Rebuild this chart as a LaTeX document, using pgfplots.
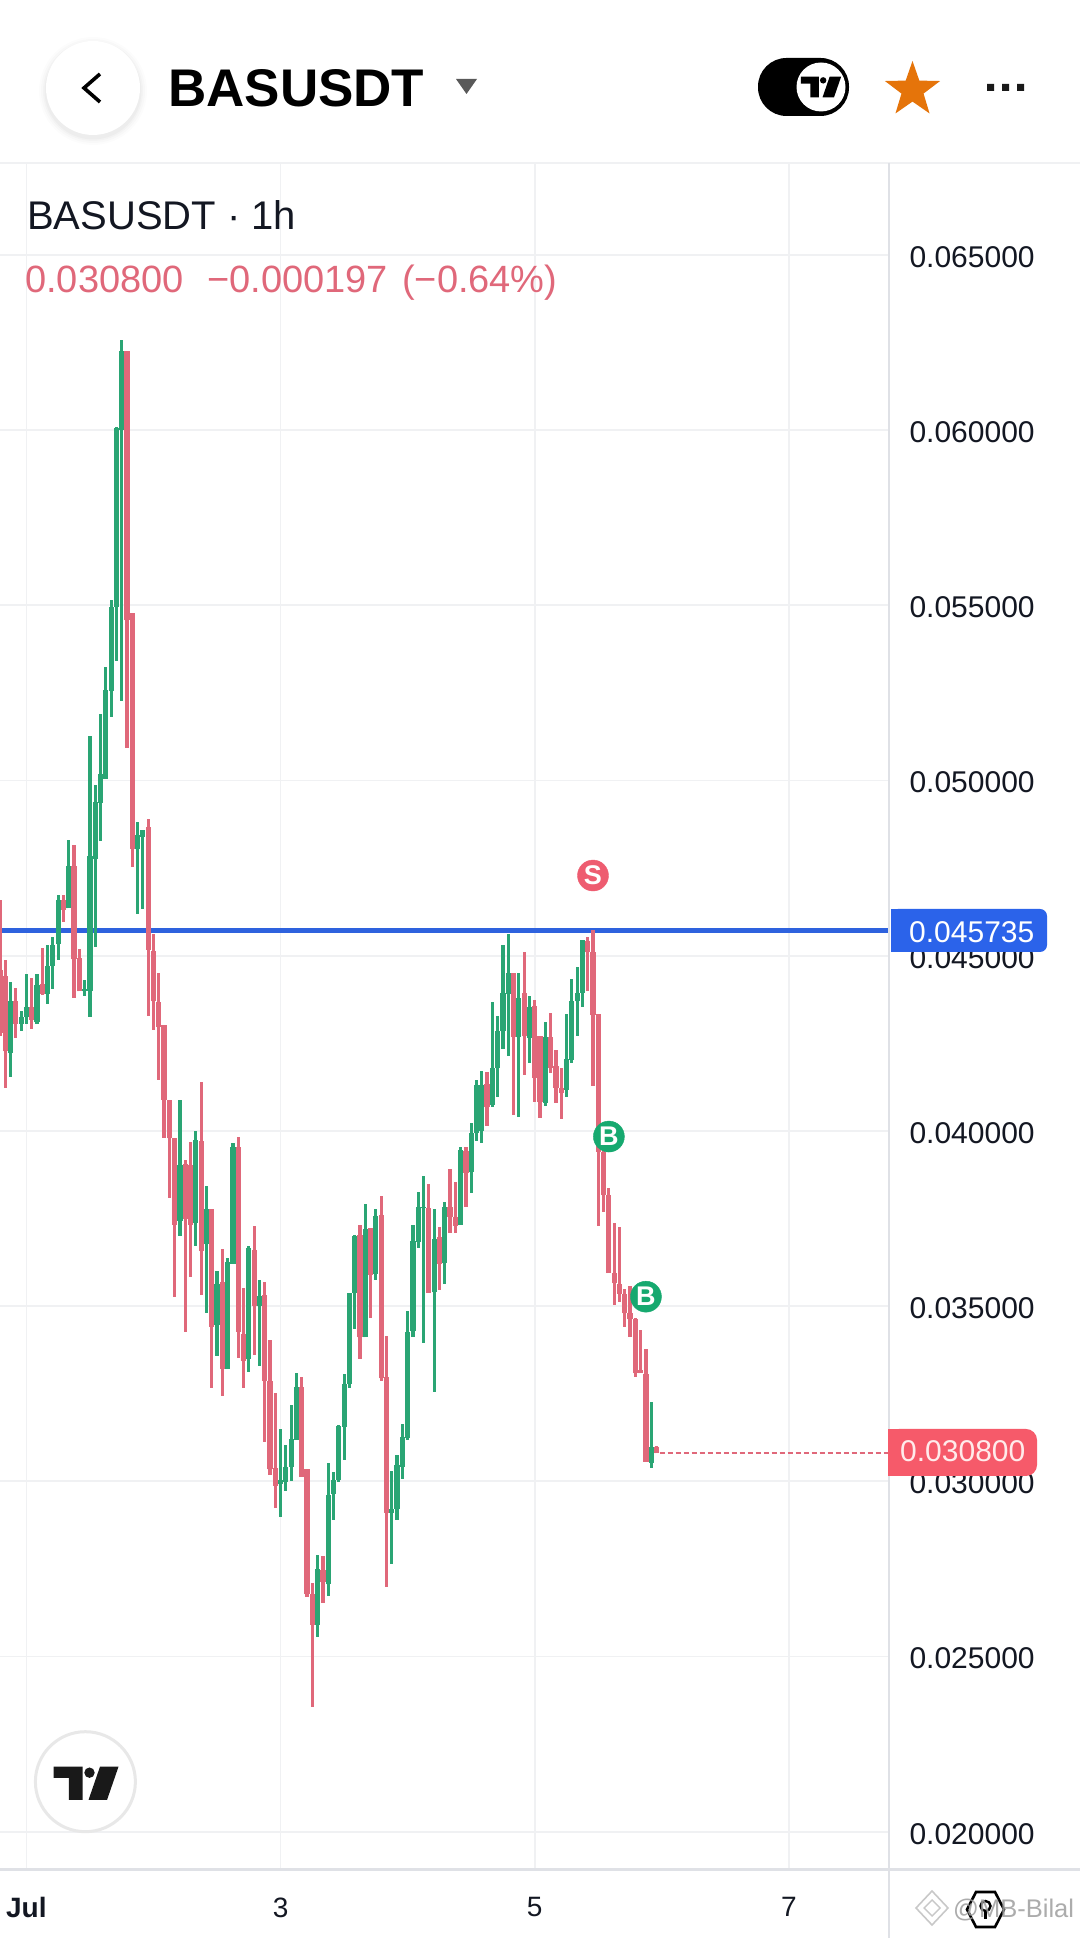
\documentclass[border=0pt]{standalone}
\usepackage{pgfplots}
\usepackage{pgfplotstable}
\usepackage{fontspec}
\setmainfont{Liberation Sans}
\pgfplotsset{compat=1.18}
\usetikzlibrary{shapes.geometric}
\definecolor{cgreen}{HTML}{2AA574}
\definecolor{cred}{HTML}{E0687A}
\definecolor{cgrid}{HTML}{F0F1F3}
\definecolor{caxis}{HTML}{DFE1E6}
\definecolor{ctext}{HTML}{131722}
\definecolor{cblue}{HTML}{2E62DE}
\definecolor{cboxb}{HTML}{2B63EA}
\definecolor{cboxr}{HTML}{F65A6A}
\definecolor{cstar}{HTML}{E5740A}
\definecolor{cmarkr}{HTML}{EE5C70}
\definecolor{cmarkg}{HTML}{16A96F}
% hour since 1 July 00:00, high, low, body top, body bottom
\pgfplotstableread{
h hi lo top bot
-3 0.04424 0.04153 0.04372 0.04222
-1 0.04341 0.04284 0.04325 0.04306
0 0.04448 0.04305 0.04355 0.04325
2 0.04448 0.04305 0.04417 0.04312
4 0.04530 0.04362 0.04470 0.04391
5 0.04553 0.04405 0.04531 0.04471
6 0.04674 0.04488 0.04658 0.04534
8 0.04831 0.04635 0.04756 0.04635
11 0.04431 0.04384 0.04405 0.04398
12 0.05127 0.04325 0.04785 0.04400
13 0.04986 0.04524 0.04940 0.04776
14 0.05189 0.04828 0.05018 0.04937
15 0.05324 0.05005 0.05259 0.05005
16 0.05516 0.05182 0.05495 0.05255
17 0.06009 0.05340 0.06005 0.05495
18 0.06256 0.05226 0.06226 0.06000
21 0.04881 0.04618 0.04844 0.04804
22 0.04858 0.04634 0.04858 0.04839
29 0.04087 0.03699 0.03903 0.03743
32 0.04000 0.03671 0.03975 0.03736
34 0.03844 0.03479 0.03776 0.03677
36 0.03601 0.03358 0.03562 0.03446
38 0.03638 0.03322 0.03625 0.03322
39 0.03966 0.03621 0.03955 0.03621
42 0.03671 0.03312 0.03667 0.03348
44 0.03575 0.03329 0.03529 0.03499
48 0.03148 0.02899 0.03004 0.02991
49 0.03105 0.02973 0.03041 0.02999
50 0.03218 0.03000 0.03122 0.03041
51 0.03308 0.03118 0.03270 0.03118
55 0.02791 0.02555 0.02750 0.02590
57 0.03051 0.02672 0.02962 0.02706
58 0.03027 0.02891 0.03003 0.02965
59 0.03160 0.02997 0.03158 0.03003
60 0.03305 0.03062 0.03277 0.03156
61 0.03538 0.03265 0.03538 0.03279
62 0.03703 0.03436 0.03701 0.03538
64 0.03791 0.03411 0.03720 0.03411
66 0.03776 0.03576 0.03757 0.03592
69 0.03029 0.02765 0.02922 0.02910
70 0.03075 0.02891 0.03046 0.02922
71 0.03165 0.03006 0.03127 0.03041
72 0.03486 0.03118 0.03425 0.03125
73 0.03732 0.03413 0.03687 0.03430
74 0.03825 0.03665 0.03784 0.03684
75 0.03871 0.03394 0.03784 0.03779
77 0.03776 0.03256 0.03692 0.03539
79 0.03798 0.03562 0.03782 0.03622
82 0.03953 0.03731 0.03946 0.03731
84 0.04024 0.03822 0.03993 0.03882
85 0.04146 0.03970 0.04130 0.03993
86 0.04172 0.03966 0.04132 0.04000
88 0.04368 0.04068 0.04179 0.04074
89 0.04327 0.04098 0.04284 0.04179
90 0.04531 0.04233 0.04393 0.04284
91 0.04563 0.04215 0.04450 0.04391
93 0.04450 0.04039 0.04379 0.04268
95 0.04386 0.04193 0.04353 0.04265
98 0.04312 0.04070 0.04268 0.04081
102 0.04333 0.04098 0.04205 0.04117
103 0.04433 0.04195 0.04371 0.04203
104 0.04469 0.04270 0.04395 0.04370
105 0.04544 0.04355 0.04544 0.04395
118 0.03227 0.03039 0.03099 0.03053
}\greentab
\pgfplotstableread{
h hi lo top bot
-5 0.04660 0.04270 0.04460 0.04280
-4 0.04489 0.04122 0.04443 0.04227
-2 0.04408 0.04265 0.04370 0.04306
1 0.04436 0.04291 0.04355 0.04317
3 0.04522 0.04387 0.04419 0.04391
7 0.04673 0.04595 0.04658 0.04631
9 0.04815 0.04379 0.04756 0.04490
10 0.04520 0.04398 0.04493 0.04398
19 0.06226 0.05093 0.06226 0.05458
20 0.05478 0.04752 0.05478 0.04804
23 0.04890 0.04327 0.04867 0.04517
24 0.04562 0.04287 0.04515 0.04370
25 0.04450 0.04144 0.04368 0.04298
26 0.04302 0.03979 0.04301 0.04089
27 0.04087 0.03808 0.04087 0.03979
28 0.03979 0.03526 0.03979 0.03732
30 0.03916 0.03427 0.03907 0.03750
31 0.03969 0.03584 0.03903 0.03732
33 0.04139 0.03531 0.03971 0.03657
35 0.03778 0.03266 0.03776 0.03441
37 0.03663 0.03243 0.03568 0.03322
40 0.03984 0.03352 0.03955 0.03427
41 0.03551 0.03266 0.03420 0.03343
43 0.03730 0.03361 0.03660 0.03499
45 0.03568 0.03112 0.03533 0.03286
46 0.03404 0.03017 0.03286 0.03034
47 0.03251 0.02923 0.03039 0.02988
52 0.03297 0.03013 0.03270 0.03013
53 0.03034 0.02669 0.03034 0.02679
54 0.02710 0.02357 0.02679 0.02590
56 0.02788 0.02652 0.02748 0.02712
63 0.03732 0.03348 0.03703 0.03411
65 0.03722 0.03465 0.03722 0.03589
67 0.03814 0.03287 0.03760 0.03294
68 0.03415 0.02697 0.03297 0.02910
76 0.03850 0.03538 0.03779 0.03538
78 0.03725 0.03546 0.03696 0.03620
80 0.03891 0.03708 0.03782 0.03755
81 0.03853 0.03710 0.03755 0.03729
83 0.03953 0.03782 0.03944 0.03881
87 0.04168 0.04013 0.04134 0.04068
92 0.04452 0.04046 0.04450 0.04268
94 0.04510 0.04160 0.04395 0.04270
96 0.04374 0.04084 0.04357 0.04151
97 0.04270 0.04038 0.04270 0.04084
99 0.04336 0.04165 0.04268 0.04181
100 0.04232 0.04081 0.04186 0.04122
101 0.04179 0.04035 0.04122 0.04108
106 0.04553 0.04398 0.04541 0.04510
107 0.04574 0.04127 0.04510 0.04330
108 0.04333 0.03730 0.04333 0.03941
109 0.03945 0.03770 0.03941 0.03817
110 0.03836 0.03594 0.03817 0.03594
111 0.03736 0.03503 0.03594 0.03565
112 0.03725 0.03511 0.03563 0.03535
113 0.03548 0.03441 0.03535 0.03479
114 0.03557 0.03411 0.03479 0.03463
115 0.03465 0.03298 0.03463 0.03308
116 0.03432 0.03308 0.03317 0.03308
117 0.03377 0.03056 0.03305 0.03056
119 0.03100 0.03080 0.03099 0.03080
}\redtab
\newcommand{\tvlogo}{%
  \fill (53.7,1766.7) -- (82.6,1766.7) -- (82.6,1800) -- (68.9,1800) -- (68.9,1778) -- (53.7,1778) -- cycle;
  \fill (89.5,1772.7) circle (5.2);
  \fill (100,1766.7) -- (118.5,1766.7) -- (107,1800) -- (88.5,1800) -- cycle;
}
\begin{document}
\begin{tikzpicture}
\path[use as bounding box,fill=white] (0pt,0pt) rectangle (1080pt,1938pt);
\begin{axis}[
  at={(0pt,68pt)},anchor=south west,
  name=chart,
  scale only axis,
  width=889pt,height=1707pt,
  xmin=-4.986,xmax=162.9,
  ymin=0.018907,ymax=0.067627,
  axis x line*=bottom,axis y line*=right,
  axis line style={-,draw=caxis,line width=2.5pt},
  major tick length=0pt,
  grid=major,
  major grid style={draw=cgrid,line width=1.8pt},
  xtick={0,48,96,144},
  xticklabels={\textbf{Jul},3,5,7},
  xticklabel style={font=\fontsize{28}{30}\selectfont,text=ctext,yshift=-24pt},
  ytick={0.020,0.025,0.030,0.035,0.040,0.045,0.050,0.055,0.060,0.065},
  scaled y ticks=false,
  yticklabel pos=right,
  yticklabel style={/pgf/number format/.cd,fixed,fixed zerofill,precision=6,assume math mode=true,
     /tikz/.cd,font=\fontsize{30}{34}\selectfont,text=ctext,anchor=west,xshift=17pt,yshift=-2pt},
]
\addplot[cblue,line width=5pt,forget plot] coordinates {(-5,0.045735) (163,0.045735)};
\addplot[cred,line width=2.4pt,dash pattern=on 5pt off 3pt,forget plot] coordinates {(119.6,0.0308) (163,0.0308)};
% wicks
\addplot[draw=none,mark=none,forget plot,error bars/.cd,y dir=both,y explicit,error mark=none,
  error bar style={cred,line width=3.2pt}]
  table[x=h,y=bot,y error plus expr=\thisrow{hi}-\thisrow{bot},y error minus expr=\thisrow{bot}-\thisrow{lo}] {\redtab};
\addplot[draw=none,mark=none,forget plot,error bars/.cd,y dir=both,y explicit,error mark=none,
  error bar style={cgreen,line width=3.2pt}]
  table[x=h,y=bot,y error plus expr=\thisrow{hi}-\thisrow{bot},y error minus expr=\thisrow{bot}-\thisrow{lo}] {\greentab};
% bodies
\addplot[draw=none,mark=none,forget plot,error bars/.cd,y dir=plus,y explicit,error mark=none,
  error bar style={cred,line width=5.2pt}]
  table[x=h,y=bot,y error plus expr=\thisrow{top}-\thisrow{bot},y error minus expr=0] {\redtab};
\addplot[draw=none,mark=none,forget plot,error bars/.cd,y dir=plus,y explicit,error mark=none,
  error bar style={cgreen,line width=5.2pt}]
  table[x=h,y=bot,y error plus expr=\thisrow{top}-\thisrow{bot},y error minus expr=0] {\greentab};
% trade markers
\addplot[only marks,mark=*,mark size=15.5pt,color=cmarkr,mark options={draw=cmarkr,fill=cmarkr},
  point meta=explicit symbolic,nodes near coords,
  nodes near coords style={anchor=center,inner sep=0pt,text=white,font=\fontsize{27}{27}\selectfont\bfseries}]
  coordinates {(107,0.04729)[S]};
\addplot[only marks,mark=*,mark size=15.5pt,color=cmarkg,mark options={draw=cmarkg,fill=cmarkg},
  point meta=explicit symbolic,nodes near coords,
  nodes near coords style={anchor=center,inner sep=0pt,text=white,font=\fontsize{27}{27}\selectfont\bfseries}]
  coordinates {(110,0.03984) [B] (117,0.03527) [B]};
\end{axis}
\begin{scope}[shift={(0pt,1938pt)},x=1pt,y=-1pt]
% frame extensions
\draw[cgrid,line width=2pt] (0,163) -- (1080,163);
\draw[caxis,line width=2.5pt] (889,163) -- (889,1938);
\draw[caxis,line width=3pt] (0,1870) -- (1080,1870);
% header
\foreach \r/\o in {54/0.012,52/0.016,50/0.02,48.5/0.025}{\fill[black,opacity=\o] (93,91) circle (\r);}
\fill[white] (93,88) circle (47);
\draw[black,line width=3.6pt,line join=miter] (100,74) -- (84,88) -- (100,102);
\node[anchor=base west,inner sep=0pt,font=\fontsize{53}{60}\selectfont\bfseries,text=black] at (168,107) {BASUSDT};
\fill[black!65] (456,79) -- (477,79) -- (466.5,94) -- cycle;
\fill[black,rounded corners=28.5pt] (758,58) rectangle (849,116);
\fill[white] (821,87) circle (24.5);
\begin{scope}[shift={(821,87)},scale=0.62,shift={(-86,-1783.4)}]
\tvlogo
\end{scope}
\node[star,star points=5,star point ratio=2.5,fill=cstar,draw=none,inner sep=0pt,minimum size=58pt] at (912.5,90) {};
\fill[black!90] (987,84) rectangle +(7,7) (1002,84) rectangle +(7,7) (1017,84) rectangle +(7,7);
% legend
\node[anchor=base west,inner sep=0pt,font=\fontsize{40}{46}\selectfont,text=ctext] at (27,230) {BASUSDT · 1h};
\node[anchor=base west,inner sep=0pt,font=\fontsize{38}{44}\selectfont,text=cred] at (25,293) {0.030800};
\node[anchor=base west,inner sep=0pt,font=\fontsize{38}{44}\selectfont,text=cred] at (207,293) {−0.000197};
\node[anchor=base west,inner sep=0pt,font=\fontsize{38}{44}\selectfont,text=cred] at (402,293) {(−0.64\%)};
% last-price and line labels
\fill[cboxb,rounded corners=7pt] (891,909) rectangle (1047,952);
\fill[cboxb] (891,909) rectangle (905,952);
\node[anchor=base west,inner sep=0pt,font=\fontsize{30}{34}\selectfont,text=white] at (909,943) {0.045735};
\fill[cboxr,rounded corners=11pt] (888,1429) rectangle (1037,1476);
\fill[cboxr] (888,1429) rectangle (905,1476);
\node[anchor=base west,inner sep=0pt,font=\fontsize{30}{34}\selectfont,text=white!92!red] at (900,1462) {0.030800};
% TV badge bottom-left
\fill[white] (85.4,1781.7) circle (50);
\draw[black!9,line width=3pt] (85.4,1781.7) circle (50);
\begin{scope}[black!90]
\tvlogo
\end{scope}
% hexagon + watermark
\draw[black,line width=2.6pt] (976,1892) -- (995,1892) -- (1004,1909.5) -- (995,1927) -- (976,1927) -- (967,1909.5) -- cycle;
\draw[black,line width=2.4pt] (985.5,1906) circle (5);
\draw[black,line width=2.4pt] (985.5,1911) -- (985.5,1919);
\draw[black!30,opacity=0.7,line width=1.6pt] (932,1891) -- (948,1908) -- (932,1925) -- (916,1908) -- cycle;
\draw[black!30,opacity=0.7,line width=1.4pt] (932,1900) -- (940,1908) -- (932,1916) -- (924,1908) -- cycle;
\node[anchor=base west,inner sep=0pt,font=\fontsize{25.5}{30}\selectfont,text=black!38,opacity=0.85] at (953,1918) {@MB-Bilal};
\end{scope}
\end{tikzpicture}
\end{document}
